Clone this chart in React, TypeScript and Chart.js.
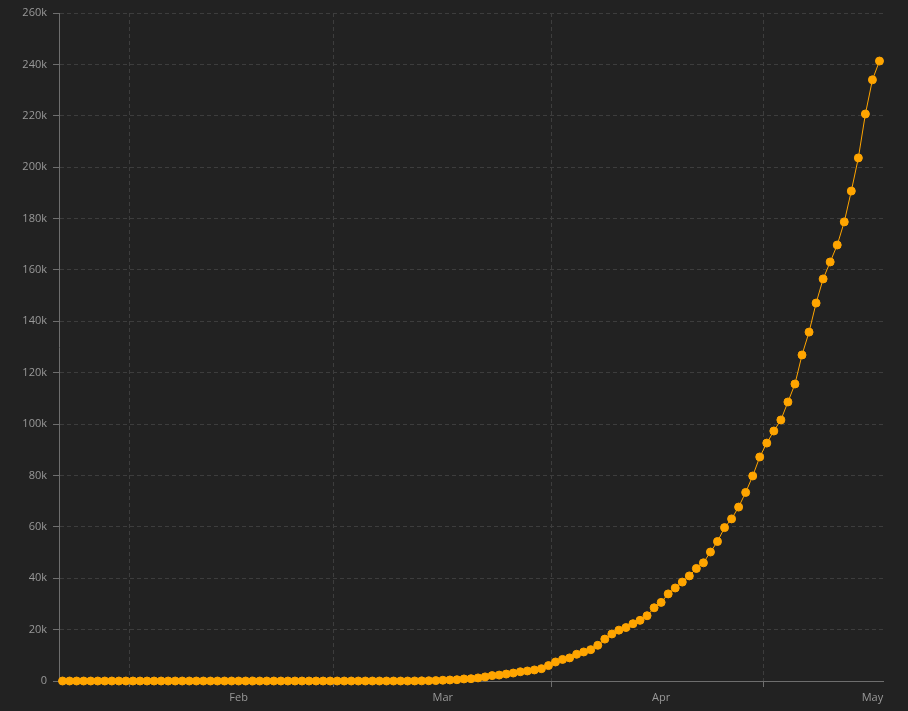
import React, { useEffect, useRef } from "react";
import { Chart, registerables } from "chart.js";

Chart.register(...registerables);

// Daily cumulative values, one per day starting 2020-01-07
const values: number[] = [
  0, 0, 0, 0, 0, 0, 0, 0, 0, 0,
  0, 0, 0, 0, 0, 0, 0, 0, 0, 0,
  0, 0, 0, 0, 0, 0, 0, 0, 0, 0,
  0, 0, 0, 0, 0, 0, 0, 0, 0, 0,
  0, 0, 0, 0, 0, 0, 0, 0, 0, 0,
  20, 50, 100, 150, 300, 400, 500, 800, 900, 1200,
  1600, 2100, 2300, 2700, 3100, 3600, 3900, 4300, 4800, 6000,
  7400, 8400, 9000, 10400, 11300, 12200, 13900, 16300, 18300, 19800,
  20800, 22300, 23600, 25400, 28500, 30600, 33900, 36200, 38500, 40900,
  43800, 46000, 50200, 54300, 59700, 63100, 67700, 73400, 79800, 87200,
  92600, 97300, 101600, 108600, 115600, 126900, 135800, 147100, 156500, 163100,
  169700, 178700, 190700, 203600, 220700, 234000, 241300,
];

const startDate = "2020-01-07";
const dayLabels: string[] = values.map((_, i) => {
  const d = new Date(startDate + "T00:00:00Z");
  d.setUTCDate(d.getUTCDate() + i);
  return d.toISOString().slice(0, 10);
});

// x-axis tick labels (at month starts) and grid-line positions (mid-month)
const monthLabels = ["Feb", "Mar", "Apr", "May"];
const monthStartDates = ["2020-02-01", "2020-03-01", "2020-04-01", "2020-05-01"];
const gridDates = ["2020-01-16", "2020-02-14", "2020-03-16", "2020-04-15"];

const yMax = 260000;
const yStep = 20000;

const BG = "#222222";
const GRID = "#3d3d3d";
const AXIS = "#6e6e6e";
const TEXT = "#999999";
const ORANGE = "#ffa500";

export default function App() {
  const ref = useRef<HTMLCanvasElement | null>(null);

  useEffect(() => {
    if (!ref.current) return;
    const monthIdx = monthStartDates.map((d) => dayLabels.indexOf(d));
    const gridIdx = gridDates.map((d) => dayLabels.indexOf(d) + 0.5);
    const isGridTick = (v: number) => gridIdx.includes(v);

    const chart = new Chart(ref.current, {
      type: "line",
      data: {
        datasets: [
          {
            data: values.map((v, i) => ({ x: i, y: v })),
            borderColor: ORANGE,
            backgroundColor: ORANGE,
            borderWidth: 1,
            pointRadius: 4,
            pointBorderWidth: 1,
            pointBackgroundColor: ORANGE,
            pointBorderColor: ORANGE,
            tension: 0,
            clip: false as any,
          },
        ],
      },
      options: {
        responsive: false,
        animation: false,
        layout: { padding: { top: 13, right: 25, left: 0, bottom: 0 } },
        plugins: { legend: { display: false }, tooltip: { enabled: false } },
        scales: {
          x: {
            type: "linear",
            min: -0.5,
            max: values.length - 0.5,
            afterBuildTicks: (scale: any) => {
              const all = [...gridIdx, ...monthIdx].sort((a, b) => a - b);
              scale.ticks = all.map((v) => ({ value: v }));
            },
            afterFit: (scale: any) => {
              scale.height = 30;
            },
            ticks: {
              autoSkip: false,
              maxRotation: 0,
              minRotation: 0,
              color: TEXT,
              padding: 4,
              font: { size: 11, family: '"Open Sans", sans-serif' },
              callback: (value: any) => {
                const k = monthIdx.indexOf(Number(value));
                return k >= 0 ? monthLabels[k] : "";
              },
            },
            grid: {
              color: (ctx: any) =>
                ctx.tick && isGridTick(ctx.tick.value) ? GRID : "rgba(0,0,0,0)",
              tickColor: (ctx: any) =>
                ctx.tick && isGridTick(ctx.tick.value) ? AXIS : "rgba(0,0,0,0)",
              lineWidth: 1,
              tickLength: 6,
            },
            border: { display: true, color: AXIS, width: 1, dash: [4, 3] },
          },
          y: {
            type: "linear",
            min: 0,
            max: yMax,
            afterFit: (scale: any) => {
              scale.width = 59;
            },
            ticks: {
              stepSize: yStep,
              color: TEXT,
              padding: 6,
              font: { size: 11, family: '"Open Sans", sans-serif' },
              callback: (value: any) =>
                Number(value) === 0 ? "0" : Number(value) / 1000 + "k",
            },
            grid: {
              color: GRID,
              tickColor: AXIS,
              lineWidth: 1,
              tickLength: 6,
            },
            border: { display: true, color: AXIS, width: 1, dash: [4, 3] },
          },
        },
      },
    });
    return () => chart.destroy();
  }, []);

  return (
    <div
      style={{
        position: "fixed",
        left: 0,
        top: 0,
        width: 908,
        height: 711,
        background: BG,
      }}
    >
      <canvas ref={ref} width={908} height={711} style={{ display: "block" }} />
    </div>
  );
}
